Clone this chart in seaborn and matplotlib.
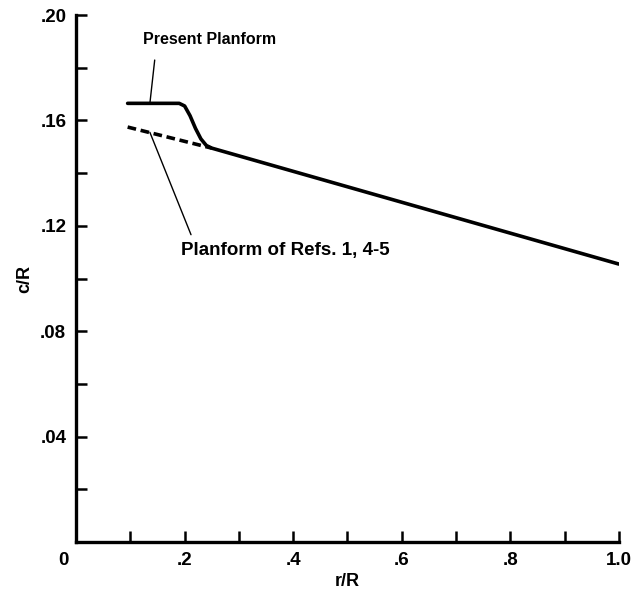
import matplotlib
matplotlib.use("Agg")
import matplotlib.pyplot as plt
import matplotlib.transforms as mtransforms
import seaborn as sns
import pandas as pd

# Data
present_r = [0.095, 0.19, 0.20, 0.21, 0.22, 0.23, 0.24, 0.25, 1.0]
present_c = [0.1665, 0.1665, 0.1655, 0.1618, 0.157, 0.1530, 0.1505, 0.1495, 0.1055]
refs_r = [0.095, 0.25]
refs_c = [0.1575, 0.1495]

x_ticks = [0.1 * i for i in range(11)]
x_labels = ["0", "", ".2", "", ".4", "", ".6", "", ".8", "", "1.0"]
y_ticks = [0.02 * i for i in range(11)]
y_labels = ["", "", ".04", "", ".08", "", ".12", "", ".16", "", ".20"]

sns.set_style("white")
plt.rcParams["font.family"] = ["Liberation Sans", "DejaVu Sans"]
plt.rcParams["font.weight"] = "bold"
plt.rcParams["text.color"] = "black"

fig = plt.figure(figsize=(6.34, 5.92), dpi=100)
ax = fig.add_axes([0.120, 0.0845, 0.856, 0.890])

df_p = pd.DataFrame({"r": present_r, "c": present_c})
df_r = pd.DataFrame({"r": refs_r, "c": refs_c})
sns.lineplot(data=df_p, x="r", y="c", ax=ax, color="black", lw=2.6, sort=False)
sns.lineplot(data=df_r, x="r", y="c", ax=ax, color="black", lw=2.6, sort=False,
             linestyle=(0, (2.4, 1.3)))

ax.set_xlim(0, 1.0)
ax.set_ylim(0, 0.20)
ax.set_xticks(x_ticks)
ax.set_xticklabels(x_labels)
ax.set_yticks(y_ticks)
ax.set_yticklabels(y_labels)
ax.tick_params(bottom=True, left=True, direction="in", length=8, width=1.8,
               labelsize=13.5, colors="black")
ax.tick_params(axis="x", pad=7)
ax.tick_params(axis="y", pad=7)
for lab in ax.get_xticklabels() + ax.get_yticklabels():
    lab.set_fontweight("bold")
# the "0" label sits a little left of the origin in the reference
zero_lab = ax.get_xticklabels()[0]
zero_lab.set_transform(zero_lab.get_transform() +
                       mtransforms.ScaledTranslation(-0.13, 0, fig.dpi_scale_trans))

for s in ["top", "right"]:
    ax.spines[s].set_visible(False)
for s in ["left", "bottom"]:
    ax.spines[s].set_linewidth(2.4)
    ax.spines[s].set_color("black")

ax.set_xlabel("r/R", fontsize=13, fontweight="bold", labelpad=3, color="black")
ax.set_ylabel("c/R", fontsize=13, fontweight="bold", labelpad=5, color="black")

ax.annotate("Present Planform", xy=(0.136, 0.1665), xytext=(0.123, 0.1907),
            fontsize=11.5, fontweight="bold", ha="left", va="center", color="black",
            arrowprops=dict(arrowstyle="-", color="black", lw=1.0,
                            shrinkA=7, shrinkB=0, relpos=(0.1, 0.0)))
ax.annotate("Planform of Refs. 1, 4-5", xy=(0.136, 0.1555), xytext=(0.194, 0.1107),
            fontsize=13.5, fontweight="bold", ha="left", va="center", color="black",
            arrowprops=dict(arrowstyle="-", color="black", lw=1.0,
                            shrinkA=3, shrinkB=0, relpos=(0.06, 1.0)))

fig.savefig("out.png", dpi=100)
